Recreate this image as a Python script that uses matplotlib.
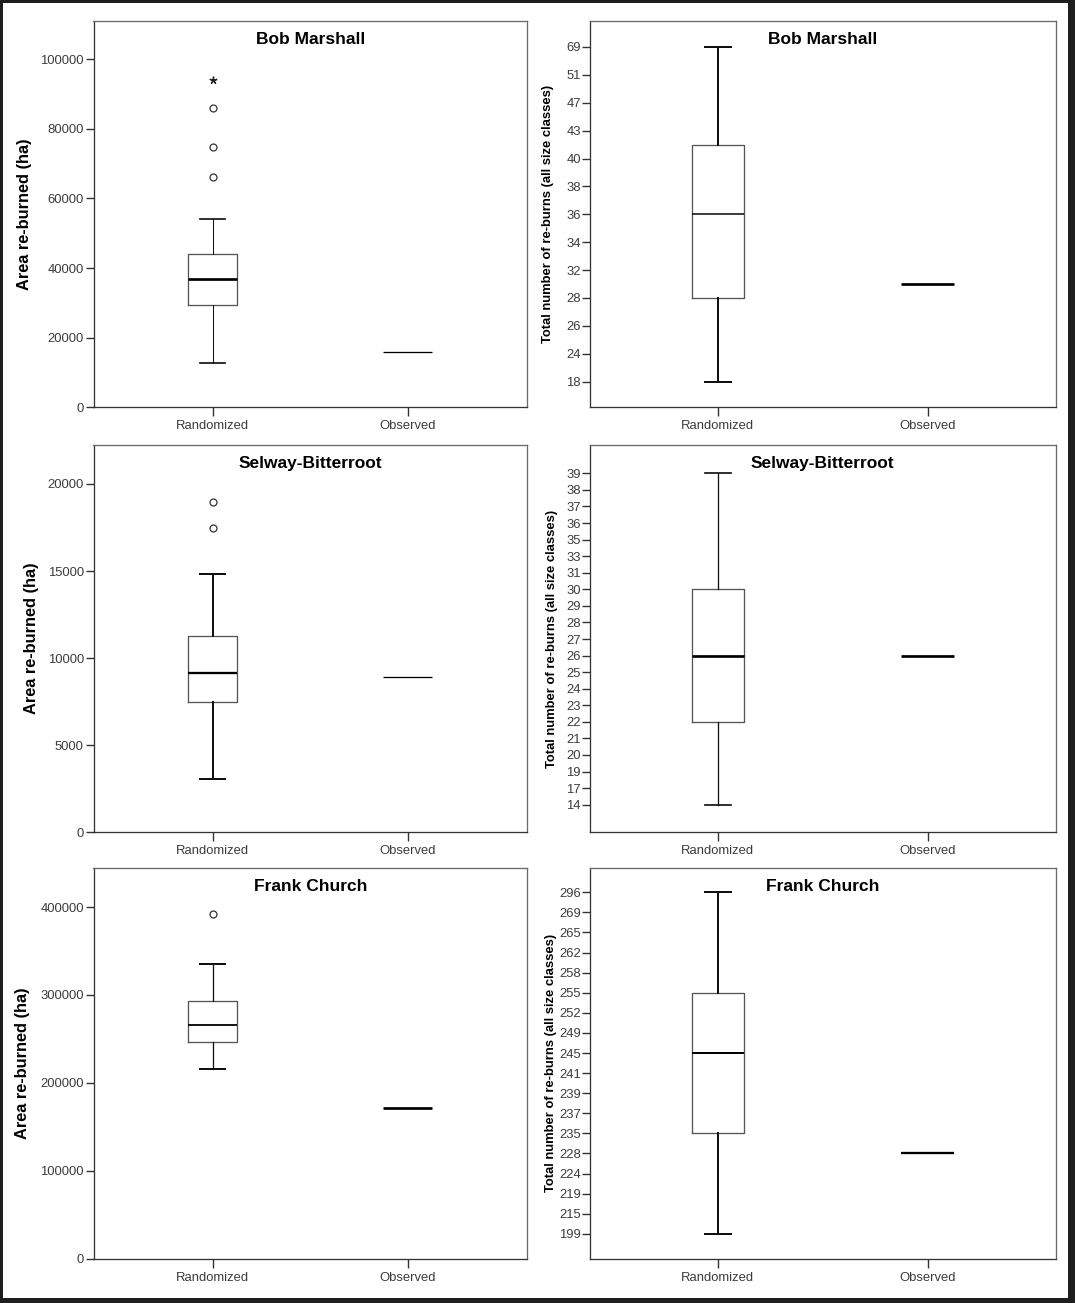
import matplotlib
matplotlib.use('Agg')
import matplotlib.pyplot as plt
from matplotlib.patches import Rectangle
import numpy as np

plt.rcParams['font.family'] = ['Liberation Sans', 'DejaVu Sans']

groups = ['Randomized', 'Observed']
titles = ['Bob Marshall', 'Selway-Bitterroot', 'Frank Church']

# area re-burned (ha): lower whisker, Q1, median, Q3, upper whisker
bob_area = [12700, 29400, 37000, 44000, 54000]
bob_area_outliers = [66200, 74900, 86100]
bob_area_extremes = [94000]
bob_area_observed = 16000

selway_area = [3060, 7500, 9150, 11270, 14830]
selway_area_outliers = [17460, 18950]
selway_area_extremes = []
selway_area_observed = 8940

frank_area = [215400, 246700, 266000, 292900, 335300]
frank_area_outliers = [392500]
frank_area_extremes = []
frank_area_observed = 171800

bob_area_ticks = [0, 20000, 40000, 60000, 80000, 100000]
selway_area_ticks = [0, 5000, 10000, 15000, 20000]
frank_area_ticks = [0, 100000, 200000, 300000, 400000]

# total number of re-burns (axis is drawn with evenly spaced category ticks)
bob_count_ticks = [18, 24, 26, 28, 32, 34, 36, 38, 40, 43, 47, 51, 69]
bob_count = [18, 28, 36, 41.5, 69]
bob_count_observed = 30

selway_count_ticks = [14, 17, 19, 20, 21, 22, 23, 24, 25, 26, 27, 28, 29, 30,
                      31, 33, 35, 36, 37, 38, 39]
selway_count = [14, 22, 26, 30, 39]
selway_count_observed = 26

frank_count_ticks = [199, 215, 219, 224, 228, 235, 237, 239, 241, 245, 249,
                     252, 255, 258, 262, 265, 269, 296]
frank_count = [199, 235, 245, 255, 296]
frank_count_observed = 228

W, H = 1075, 1303
fig = plt.figure(figsize=(W / 100, H / 100), dpi=100, facecolor='#1e1e1e')
fig.add_artist(Rectangle((3 / W, 5 / H), (1068 - 3) / W, (1300 - 5) / H,
                         transform=fig.transFigure, facecolor='white',
                         edgecolor='none', zorder=0))

PX = 0.72  # points per pixel at 100 dpi
tick_color = '#3c3c3c'


def px_axes(x0, x1, ytop, ybot):
    return fig.add_axes([x0 / W, 1 - ybot / H, (x1 - x0) / W, (ybot - ytop) / H])


def style_axes(ax, ylen, ypad):
    for s in ['left', 'bottom']:
        ax.spines[s].set_color('#333333')
        ax.spines[s].set_linewidth(1.3 * PX)
    for s in ['top', 'right']:
        ax.spines[s].set_color('#6a6a6a')
        ax.spines[s].set_linewidth(1.3 * PX)
    ax.set_xlim(-0.61, 1.61)
    ax.set_xticks([0, 1])
    ax.set_xticklabels(groups)
    ax.tick_params(axis='x', length=6.5, width=1.0, color='#333333',
                   labelsize=9.4, labelcolor=tick_color, pad=3)
    ax.tick_params(axis='y', length=ylen, width=1.0, color='#333333',
                   labelsize=9.4, labelcolor=tick_color, pad=ypad)


def draw_box(ax, stats, outliers, extremes, observed, lw):
    lo, q1, med, q3, hi = stats
    wl, cl, ml, ol = [v * PX for v in lw]
    ax.bxp([dict(whislo=lo, q1=q1, med=med, q3=q3, whishi=hi, fliers=outliers)],
           positions=[0], widths=0.25, capwidths=0.125, manage_ticks=False,
           boxprops=dict(color='#555555', linewidth=1.3 * PX),
           whiskerprops=dict(color='#111111', linewidth=wl),
           capprops=dict(color='#111111', linewidth=cl),
           medianprops=dict(color='#000000', linewidth=ml),
           flierprops=dict(marker='o', markerfacecolor='none',
                           markeredgecolor='#333333', markersize=5,
                           markeredgewidth=0.9))
    if len(extremes):
        ax.plot([0] * len(extremes), extremes, linestyle='none',
                marker=(5, 2, 0), markersize=5.5, color='#222222',
                markeredgewidth=1.0)
    ax.hlines(observed, 1 - 0.125, 1 + 0.125, color='#000000', linewidth=ol)


def add_title(ax, text, height_px):
    ax.text(0.5, 1 - 18.5 / height_px, text, transform=ax.transAxes,
            ha='center', va='center', fontsize=12.5, fontweight='bold')


rows = [(21, 407.3), (445, 832.2), (867.8, 1258.5)]
left_cols = (93.5, 527)
right_cols = (590, 1055.5)

area_data = [
    (bob_area, bob_area_outliers, bob_area_extremes, bob_area_observed,
     bob_area_ticks, 111000),
    (selway_area, selway_area_outliers, selway_area_extremes,
     selway_area_observed, selway_area_ticks, 22240),
    (frank_area, frank_area_outliers, frank_area_extremes,
     frank_area_observed, frank_area_ticks, 444700),
]
count_data = [
    (bob_count, bob_count_observed, bob_count_ticks, (-0.92, 12.93)),
    (selway_count, selway_count_observed, selway_count_ticks, (-1.66, 21.71)),
    (frank_count, frank_count_observed, frank_count_ticks, (-1.23, 18.22)),
]
# line widths in px: whisker, cap, median, observed
area_lw = [(1.0, 1.7, 2.7, 1.3), (2.0, 2.0, 2.3, 1.3), (1.3, 2.0, 1.8, 2.7)]
count_lw = [(2.0, 2.0, 1.5, 2.7), (1.3, 1.7, 2.7, 2.7), (2.0, 2.0, 2.0, 2.3)]
left_label_x = [24.5, 31.5, 22.5]
right_label_x = [548, 551.5, 551]

for i, (ytop, ybot) in enumerate(rows):
    # left: area re-burned
    stats, outl, extr, obs, ticks, ytopval = area_data[i]
    ax = px_axes(left_cols[0], left_cols[1], ytop, ybot)
    draw_box(ax, stats, outl, extr, obs, area_lw[i])
    ax.set_ylim(0, ytopval)
    ax.set_yticks(ticks)
    ax.set_yticklabels([str(t) for t in ticks])
    style_axes(ax, 5.5, 1.5)
    add_title(ax, titles[i], ybot - ytop)
    fig.text(left_label_x[i] / W, 1 - (ytop + ybot) / 2 / H,
             'Area re-burned (ha)', rotation=90, ha='center', va='center',
             fontsize=11.8, fontweight='bold')

    # right: total number of re-burns on category positions
    stats, obs, ticks, ylim = count_data[i]
    idx = np.arange(len(ticks))
    to_pos = lambda v, t=ticks, k=idx: np.interp(v, t, k)
    ax = px_axes(right_cols[0], right_cols[1], ytop, ybot)
    draw_box(ax, [to_pos(v) for v in stats], [], [], to_pos(obs), count_lw[i])
    ax.set_ylim(*ylim)
    ax.set_yticks(idx)
    ax.set_yticklabels([str(t) for t in ticks])
    style_axes(ax, 6.0, 0.5)
    add_title(ax, titles[i], ybot - ytop)
    fig.text(right_label_x[i] / W, 1 - (ytop + ybot) / 2 / H,
             'Total number of re-burns (all size classes)', rotation=90,
             ha='center', va='center', fontsize=9.4, fontweight='bold')

fig.savefig('out.png', dpi=100, facecolor=fig.get_facecolor())
